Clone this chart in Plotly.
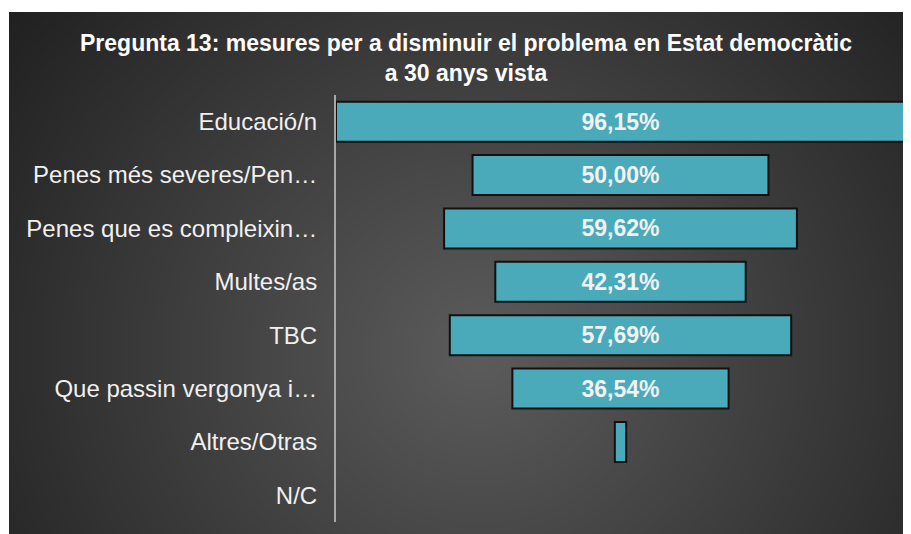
import base64
import struct
import zlib

import numpy as np
import plotly.graph_objects as go

# ---------------- data ----------------
categories = [
    "Educació/n",
    "Penes més severes/Pen…",
    "Penes que es compleixin…",
    "Multes/as",
    "TBC",
    "Que passin vergonya i…",
    "Altres/Otras",
    "N/C",
]
values = [96.15, 50.00, 59.62, 42.31, 57.69, 36.54, 1.92, 0.0]
value_labels = ["96,15%", "50,00%", "59,62%", "42,31%", "57,69%", "36,54%", "1,92%", ""]
title_lines = [
    "Pregunta 13: mesures per a disminuir el problema en Estat democràtic",
    "a 30 anys vista",
]

# ---------------- geometry (figure pixels; page body adds an 8px offset) ----------------
W, H = 903, 526
PX_L, PX_R, PX_T, PX_B = 328, 897, 87, 514  # plot area
PANEL_L, PANEL_T = 1, 4  # dark panel top-left corner
pw, ph = PX_R - PX_L, PX_B - PX_T


def px_to_paper_x(px):
    return (px - PX_L) / pw


def px_to_paper_y(py):
    return (PX_B - py) / ph


# ---------------- background gradient image ----------------
def gray_png_uri(arr):
    h, w = arr.shape
    raw = b"".join(b"\x00" + arr[i].tobytes() for i in range(h))

    def chunk(tag, data):
        c = struct.pack(">I", len(data)) + tag + data
        return c + struct.pack(">I", zlib.crc32(tag + data) & 0xFFFFFFFF)

    png = (
        b"\x89PNG\r\n\x1a\n"
        + chunk(b"IHDR", struct.pack(">IIBBBBB", w, h, 8, 0, 0, 0, 0))
        + chunk(b"IDAT", zlib.compress(raw, 9))
        + chunk(b"IEND", b"")
    )
    return "data:image/png;base64," + base64.b64encode(png).decode()


gw, gh = (W - PANEL_L) // 2, (H - PANEL_T) // 2
yy, xx = np.mgrid[0:gh, 0:gw] * 2.0
cx, cy = 470.0, 340.0
dist = np.sqrt(((xx - cx) / 1.05) ** 2 + ((yy - cy) / 1.0) ** 2)
grad = np.clip(92 - 0.105 * dist, 32, 255).astype(np.uint8)
bg_uri = gray_png_uri(grad)

# ---------------- figure ----------------
half = values[0] / 2
line_widths = [2 if v > 0 else 0 for v in values]

fig = go.Figure(
    go.Funnel(
        y=categories,
        x=values,
        text=value_labels,
        texttemplate="<b>%{text}</b>",
        textposition="inside",
        insidetextanchor="middle",
        textfont=dict(family="Liberation Sans, Arial", size=23, color="#f2f2f2"),
        marker=dict(color="#4aaaba", line=dict(color="#111111", width=line_widths)),
        connector=dict(visible=False),
        cliponaxis=False,
        hoverinfo="skip",
    )
)

fig.update_layout(
    width=W,
    height=H,
    margin=dict(l=PX_L, r=W - PX_R, t=PX_T, b=H - PX_B),
    paper_bgcolor="white",
    plot_bgcolor="rgba(0,0,0,0)",
    funnelgap=0.25,
    showlegend=False,
    uniformtext=dict(minsize=18, mode="hide"),
    annotations=[
        dict(
            text="<br>".join("<b>" + line + "</b>" for line in title_lines),
            xref="paper",
            yref="paper",
            x=px_to_paper_x(458),
            y=px_to_paper_y(50),
            xanchor="center",
            yanchor="middle",
            showarrow=False,
            font=dict(family="Liberation Sans, Arial", size=23, color="white"),
        )
    ],
    xaxis=dict(range=[-half, half], visible=False, fixedrange=True),
    yaxis=dict(
        showline=True,
        linecolor="#a8a8a8",
        linewidth=2,
        ticks="",
        showgrid=False,
        zeroline=False,
        ticklabelstandoff=12,
        tickfont=dict(family="Liberation Sans, Arial", size=24, color="#f0f0f0"),
    ),
    images=[
        dict(
            source=bg_uri,
            xref="paper",
            yref="paper",
            x=px_to_paper_x(PANEL_L),
            y=px_to_paper_y(PANEL_T),
            sizex=(W - PANEL_L) / pw,
            sizey=(H - PANEL_T) / ph,
            xanchor="left",
            yanchor="top",
            sizing="stretch",
            layer="below",
        )
    ],
)

fig.write_html("out.html")
